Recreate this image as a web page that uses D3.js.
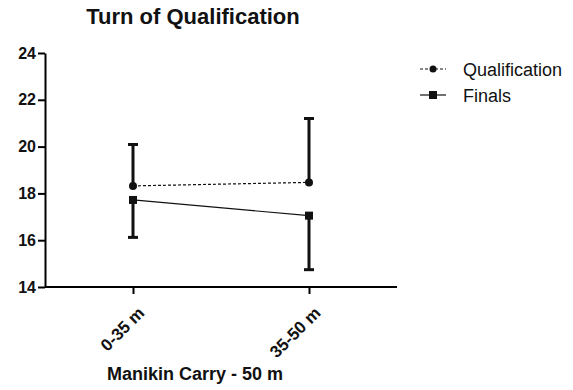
<!DOCTYPE html>
<html>
<head>
<meta charset="utf-8">
<script src="https://cdn.jsdelivr.net/npm/d3@7"></script>
<style>
  body { margin: 0; background: #fff; }
  text { font-family: "Liberation Sans", Arial, sans-serif; fill: #111; }
</style>
</head>
<body>
<div id="chart"></div>
<script>
// data
const categories = ["0-35 m", "35-50 m"]
const qualMean = [18.32, 18.47]
const qualSD = [1.77, 2.73]      // upper whisker only
const finalsMean = [17.72, 17.05]
const finalsSD = [1.6, 2.31]     // lower whisker only
const yTicks = [14, 16, 18, 20, 22, 24]

const width = 573, height = 390
const m = { left: 45, top: 53, right: 176, bottom: 103 }
const font = "'Liberation Sans', Arial, sans-serif"

const svg = d3.select("#chart").append("svg")
  .attr("width", width)
  .attr("height", height)

const x = d3.scalePoint()
  .domain(categories)
  .range([m.left, width - m.right])
  .padding(0.5)

const y = d3.scaleLinear()
  .domain([14, 24])
  .range([height - m.bottom, m.top])

// title
svg.append("text")
  .attr("x", 193).attr("y", 24)
  .attr("text-anchor", "middle")
  .style("font-size", "22px").style("font-weight", "bold")
  .text("Turn of Qualification")

// y axis
const yAxis = svg.append("g")
  .attr("transform", `translate(${m.left},0)`)
  .call(d3.axisLeft(y).tickValues(yTicks).tickSize(7).tickSizeOuter(0))
yAxis.select(".domain").attr("stroke-width", 2)
yAxis.selectAll(".tick line").attr("stroke-width", 2)
yAxis.selectAll("text")
  .attr("x", -9)
  .style("font-size", "16px").style("font-weight", "bold")
  .style("font-family", font)

// x axis
const xAxis = svg.append("g")
  .attr("transform", `translate(0,${height - m.bottom})`)
  .call(d3.axisBottom(x).tickSize(7).tickSizeOuter(0))
xAxis.select(".domain").attr("stroke-width", 2)
  .attr("d", `M${m.left},0H${width - m.right}`)
xAxis.selectAll(".tick line").attr("stroke-width", 2)
xAxis.selectAll("text")
  .attr("text-anchor", "end")
  .attr("dx", 0).attr("dy", 0)
  .attr("transform", "translate(5,20) rotate(-45)")
  .style("font-size", "17px").style("font-weight", "bold")
  .style("font-family", font)

svg.append("text")
  .attr("x", 195).attr("y", 380)
  .attr("text-anchor", "middle")
  .style("font-size", "18px").style("font-weight", "bold")
  .text("Manikin Carry - 50 m")

// error bars
const cap = 5
function whisker(cx, from, to) {
  svg.append("line")
    .attr("x1", cx).attr("x2", cx)
    .attr("y1", y(from)).attr("y2", y(to))
    .attr("stroke", "#111").attr("stroke-width", 3)
  svg.append("line")
    .attr("x1", cx - cap).attr("x2", cx + cap)
    .attr("y1", y(to)).attr("y2", y(to))
    .attr("stroke", "#111").attr("stroke-width", 3)
}
categories.forEach((c, i) => {
  whisker(x(c), qualMean[i], qualMean[i] + qualSD[i])
  whisker(x(c), finalsMean[i], finalsMean[i] - finalsSD[i])
})

// lines
const line = d3.line()
  .x((d, i) => x(categories[i]))
  .y(d => y(d))

svg.append("path")
  .attr("d", line(qualMean))
  .attr("fill", "none").attr("stroke", "#111")
  .attr("stroke-width", 1.2).attr("stroke-dasharray", "3,2")

svg.append("path")
  .attr("d", line(finalsMean))
  .attr("fill", "none").attr("stroke", "#111")
  .attr("stroke-width", 1.2)

svg.selectAll(".qpt").data(qualMean).enter().append("circle")
  .attr("cx", (d, i) => x(categories[i]))
  .attr("cy", d => y(d))
  .attr("r", 4).attr("fill", "#111")

svg.selectAll(".fpt").data(finalsMean).enter().append("rect")
  .attr("x", (d, i) => x(categories[i]) - 4)
  .attr("y", d => y(d) - 4)
  .attr("width", 8).attr("height", 8).attr("fill", "#111")

// legend
const lg = svg.append("g").attr("transform", "translate(420,69)")
lg.append("line").attr("x1", 0).attr("x2", 26).attr("y1", 0).attr("y2", 0)
  .attr("stroke", "#111").attr("stroke-width", 1.2).attr("stroke-dasharray", "3,2")
lg.append("circle").attr("cx", 13).attr("cy", 0).attr("r", 3.5).attr("fill", "#111")
lg.append("text").attr("x", 43).attr("y", 6.5)
  .style("font-size", "18px").text("Qualification")

lg.append("line").attr("x1", 0).attr("x2", 26).attr("y1", 26).attr("y2", 26)
  .attr("stroke", "#111").attr("stroke-width", 1.2)
lg.append("rect").attr("x", 9).attr("y", 22).attr("width", 8).attr("height", 8).attr("fill", "#111")
lg.append("text").attr("x", 43).attr("y", 32.5)
  .style("font-size", "18px").text("Finals")
</script>
</body>
</html>
